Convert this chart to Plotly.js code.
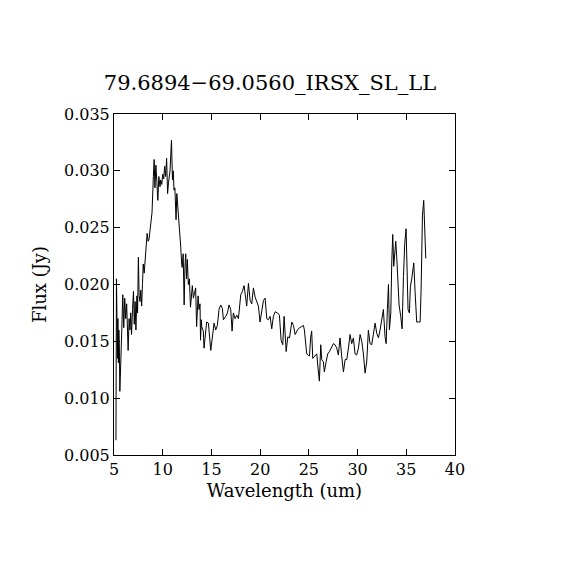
<!DOCTYPE html>
<html>
<head>
<meta charset="utf-8">
<script src="https://cdn.plot.ly/plotly-3.0.1.min.js"></script>
<style>html,body{margin:0;padding:0;background:#fff;}#chart{width:570px;height:570px;}</style>
</head>
<body>
<div id="chart"></div>
<script>
var wavelength = [
5.20,5.25,5.30,5.35,5.40,5.45,5.50,5.55,5.60,5.70,5.80,5.90,6.00,6.10,6.20,6.30,6.38,6.45,6.55,6.64,
6.72,6.80,6.90,7.00,7.08,7.17,7.25,7.35,7.42,7.50,7.58,7.67,7.75,7.84,7.92,8.00,8.10,8.20,8.30,8.40,
8.50,8.60,8.70,8.80,8.90,9.04,9.12,9.20,9.30,9.40,9.50,9.60,9.72,9.80,9.90,10.00,10.10,10.20,10.30,10.40,
10.50,10.60,10.75,10.90,11.00,11.08,11.16,11.25,11.37,11.45,11.55,11.65,11.75,11.85,11.95,12.00,12.10,12.20,12.28,12.36,
12.45,12.53,12.63,12.74,12.85,12.95,13.04,13.15,13.25,13.38,13.48,13.55,13.63,13.72,
13.83,13.88,13.97,14.00,14.17,14.24,14.51,14.69,14.93,15.13,15.27,15.44,15.61,15.78,15.95,16.12,16.23,16.47,16.64,16.81,
16.98,17.12,17.25,17.43,17.60,17.77,17.87,18.01,18.18,18.35,18.52,18.62,18.80,18.97,19.14,19.31,19.48,19.65,19.82,19.99,
20.17,20.34,20.51,20.68,20.85,21.02,21.19,21.36,21.54,21.78,21.98,22.15,22.32,22.46,22.67,22.84,23.01,23.25,23.42,23.59,
23.83,24.04,
24.27,24.44,24.54,24.68,24.78,24.95,25.06,25.19,25.29,25.40,25.64,25.81,25.98,26.08,26.22,26.32,26.49,26.59,26.77,26.94,
27.11,27.35,27.52,27.69,27.86,28.03,28.20,28.37,28.55,28.72,28.89,29.06,29.23,29.40,29.57,29.74,29.91,30.09,30.26,30.43,
30.60,30.77,30.94,31.11,31.28,31.45,31.63,31.80,31.97,32.14,32.31,32.48,32.65,32.82,32.93,33.06,33.17,33.27,33.41,33.51,
33.61,33.71,33.82,33.92,34.02,34.12,34.26,34.43,34.57,34.71,34.84,34.98,35.08,35.18,35.32,35.42,35.56,35.66,35.77,35.90,
36.07,36.25,36.42,36.52,36.66,36.79,36.90,37.00
];
var flux = [
0.0063,0.0205,0.0175,0.0135,0.0170,0.0131,0.0160,0.0145,0.0106,0.0150,0.0160,0.0191,0.0162,0.0188,0.0170,0.0183,0.0160,0.0142,0.0170,0.0160,
0.0175,0.0156,0.0178,0.0194,0.0165,0.0185,0.0160,0.0190,0.0175,0.0224,0.0190,0.0185,0.0195,0.0181,0.0200,0.0218,0.0210,0.0225,0.0232,0.0245,
0.0238,0.0240,0.0248,0.0255,0.0263,0.0295,0.0310,0.0285,0.0305,0.0290,0.0274,0.0295,0.0286,0.0292,0.0288,0.0297,0.0293,0.0304,0.0295,0.0311,
0.0280,0.0290,0.0300,0.0327,0.0292,0.0300,0.0283,0.0285,0.0257,0.0280,0.0270,0.0257,0.0245,0.0233,0.0218,0.0215,0.0227,0.0182,0.0215,0.0227,
0.0205,0.0222,0.0200,0.0205,0.0180,0.0195,0.0199,0.0188,0.0192,0.0197,0.0163,0.0185,0.0190,0.0178,
0.0183,0.0151,0.0169,0.0163,0.0159,0.0144,0.0167,0.0166,0.0142,0.0160,0.0166,0.0160,0.0164,0.0178,0.0182,0.0179,0.0169,0.0172,0.0175,0.0182,
0.0178,0.0159,0.0175,0.0170,0.0173,0.0170,0.0179,0.0191,0.0194,0.0199,0.0188,0.0181,0.0201,0.0186,0.0183,0.0197,0.0189,0.0185,0.0181,0.0167,
0.0178,0.0186,0.0188,0.0170,0.0169,0.0172,0.0161,0.0172,0.0176,0.0175,0.0173,0.0151,0.0147,0.0172,0.0141,0.0154,0.0153,0.0167,0.0164,0.0156,
0.0160,0.0162,
0.0163,0.0164,0.0160,0.0148,0.0139,0.0138,0.0137,0.0154,0.0159,0.0135,0.0137,0.0139,0.0123,0.0115,0.0147,0.0134,0.0132,0.0123,0.0132,0.0139,
0.0141,0.0145,0.0148,0.0147,0.0144,0.0138,0.0153,0.0137,0.0123,0.0134,0.0134,0.0144,0.0156,0.0148,0.0153,0.0139,0.0138,0.0144,0.0156,0.0150,
0.0139,0.0122,0.0132,0.0160,0.0148,0.0147,0.0157,0.0166,0.0157,0.0153,0.0160,0.0170,0.0178,0.0154,0.0148,0.0178,0.0200,0.0160,0.0175,0.0220,
0.0244,0.0216,0.0230,0.0238,0.0224,0.0204,0.0182,0.0172,0.0161,0.0207,0.0236,0.0249,0.0207,0.0178,0.0175,0.0198,0.0205,0.0211,0.0219,0.0194,
0.0167,0.0167,0.0167,0.0195,0.0261,0.0274,0.0236,0.0223
];
var xTickVals = [5,10,15,20,25,30,35,40];
var yTickVals = [0.005,0.010,0.015,0.020,0.025,0.030,0.035];
var yTickText = ["0.005","0.010","0.015","0.020","0.025","0.030","0.035"];
var titleText = "79.6894\u221269.0560_IRSX_SL_LL";
var xTitle = "Wavelength (um)";
var yTitle = "Flux (Jy)";

var font = "DejaVu Serif, serif";
var trace = {
  x: wavelength, y: flux, type: "scatter", mode: "lines",
  line: {color: "#000", width: 1}, hoverinfo: "none"
};
var axisCommon = {
  showgrid: false, zeroline: false, showline: true, linecolor: "#000", linewidth: 1,
  mirror: "ticks", ticks: "inside", ticklen: 6, tickcolor: "#000", tickwidth: 1,
  tickfont: {family: font, size: 16, color: "#000"}
};
var layout = {
  width: 570, height: 570,
  margin: {l: 114, r: 115, t: 114, b: 115, pad: 0},
  paper_bgcolor: "#fff", plot_bgcolor: "#fff",
  showlegend: false,
  title: {text: titleText, font: {family: font, size: 21, color: "#000"},
          x: 270/570, xref: "container", xanchor: "center", y: 1 - 83/570, yref: "container", yanchor: "middle"},
  xaxis: Object.assign({}, axisCommon, {
    range: [5, 40], tickvals: xTickVals, ticktext: xTickVals.map(String),
    title: {text: xTitle, font: {family: font, size: 18, color: "#000"}, standoff: 6}
  }),
  yaxis: Object.assign({}, axisCommon, {
    range: [0.005, 0.035], tickvals: yTickVals, ticktext: yTickText,
    title: {text: yTitle, font: {family: font, size: 18, color: "#000"}, standoff: 12}
  })
};
Plotly.newPlot("chart", [trace], layout, {staticPlot: true, displayModeBar: false});
</script>
</body>
</html>
